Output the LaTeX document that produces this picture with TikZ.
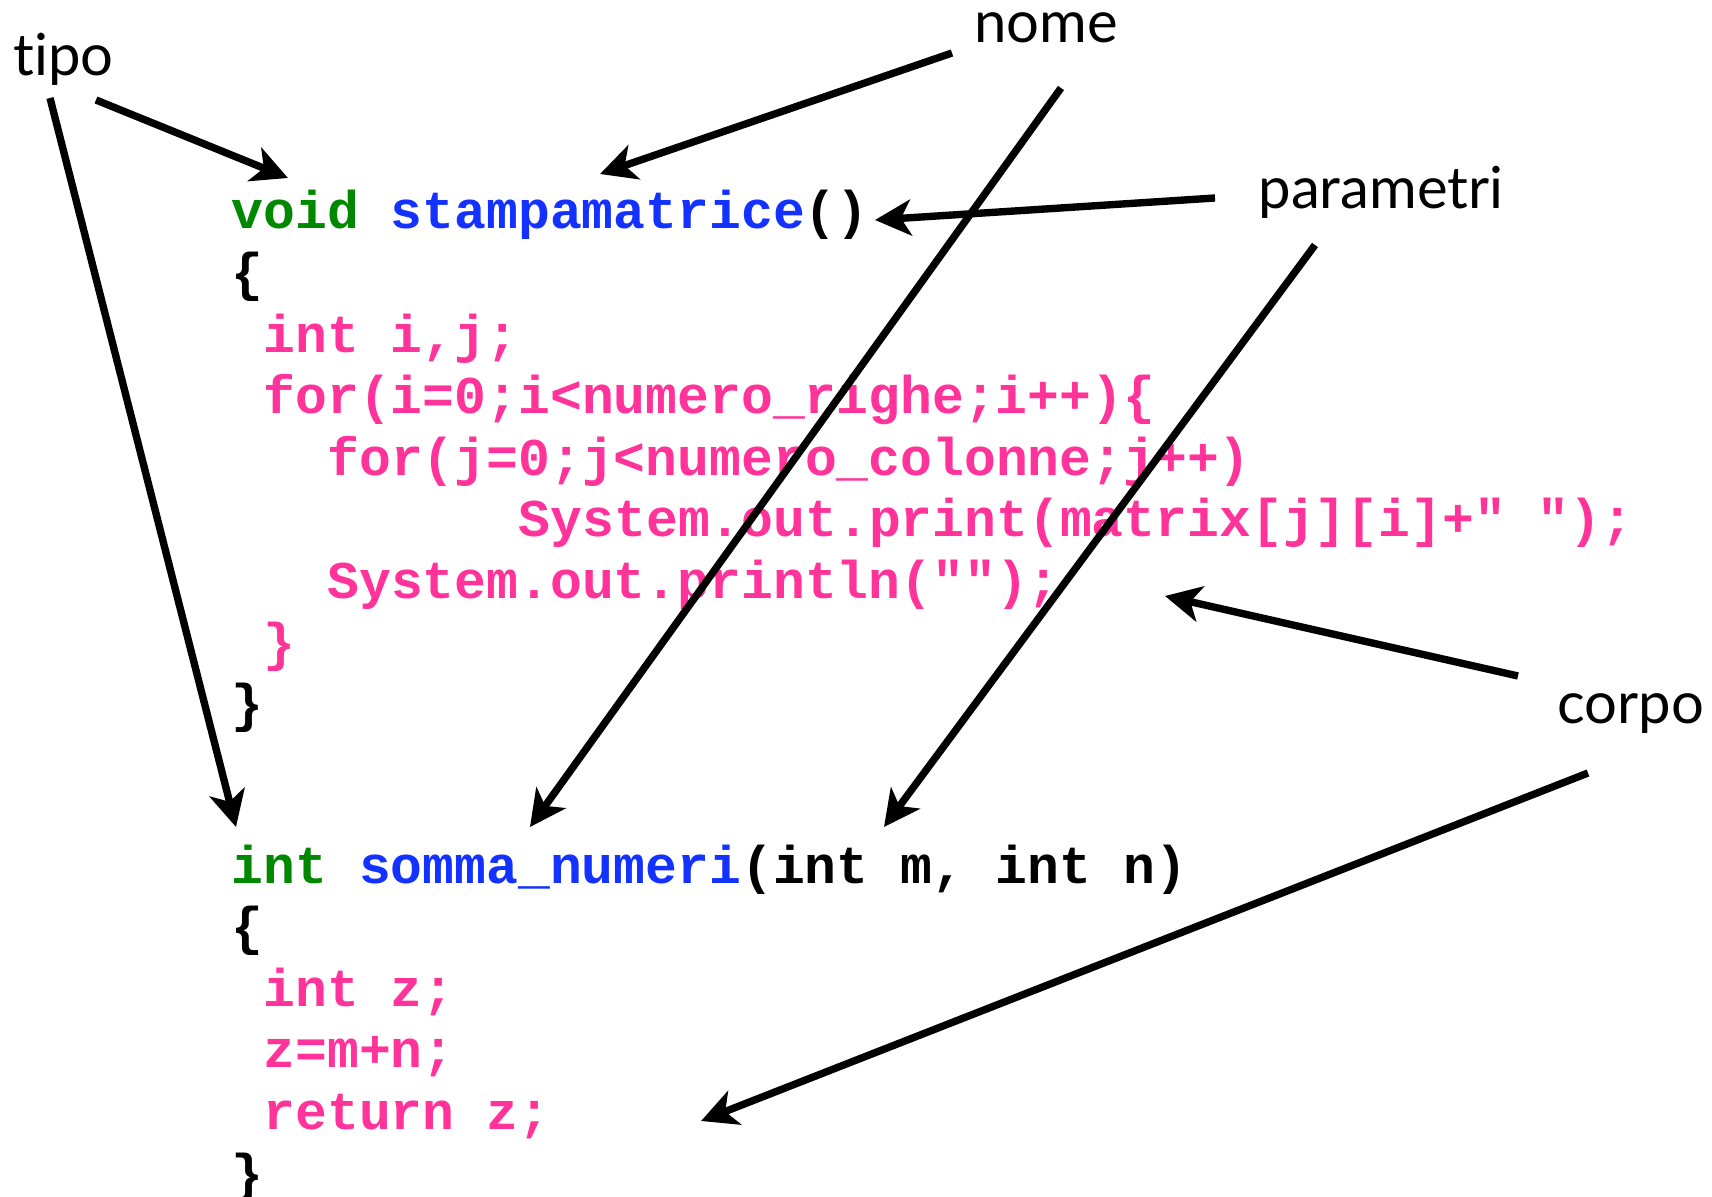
\documentclass[tikz,border=0pt]{standalone}
\usepackage{fontspec}
\setmainfont{Lato}[Ligatures={NoCommon}]
\newfontfamily\codefont{Liberation Mono}
\usetikzlibrary{arrows.meta, calc}

\definecolor{kwgreen}{RGB}{0,136,0}
\definecolor{fnblue}{RGB}{20,50,255}
\definecolor{bodypink}{RGB}{255,51,153}

\begin{document}
\begin{tikzpicture}[
    x=0.1mm, y=-0.1mm,
    >={Stealth[length=3.6mm, width=3.6mm, inset=1mm]},
    code/.style = {font=\codefont\bfseries\fontsize{15.1pt}{18pt}\selectfont, anchor=base west, inner sep=0pt},
    body/.style = {code, text=bodypink},
    tag/.style = {font=\fontsize{16.5pt}{20pt}\selectfont, anchor=base, inner sep=0pt},
    arrow/.style = {->, line width=2.1pt}
]
\useasboundingbox (0,0) rectangle (1712,1197);

% ---------------------------------------------------------
% first function (columns are 31.9 wide)
% ---------------------------------------------------------
\node[code] (sig1) at (231,229) {\textcolor{kwgreen}{void} \textcolor{fnblue}{stampamatrice}()};
\node[code] (open1) at (231,290.6) {\{};
\node[body] (decl1) at (262.9,352.2) {int i,j;};
\node[body] (outer) at (262.9,413.8) {for(i=0;i<numero\_righe;i++)\{};
\node[body] (inner) at (326.7,475.4) {for(j=0;j<numero\_colonne;j++)};
\node[body] (print) at (518.1,537) {System.out.print(matrix[j][i]+" ");};
\node[body] (newline) at (326.7,598.6) {System.out.println("");};
\node[body] (endfor) at (262.9,660.2) {\}};
\node[code] (close1) at (231,721.8) {\}};

% ---------------------------------------------------------
% second function
% ---------------------------------------------------------
\node[code] (sig2) at (231,883) {\textcolor{kwgreen}{int} \textcolor{fnblue}{somma\_numeri}(int m, int n)};
\node[code] (open2) at (231,944.6) {\{};
\node[body] (decl2) at (262.9,1006.2) {int z;};
\node[body] (sum) at (262.9,1067.8) {z=m+n;};
\node[body] (ret) at (262.9,1129.4) {return z;};
\node[code] (close2) at (231,1191) {\}};

% ---------------------------------------------------------
% labels
% ---------------------------------------------------------
\node[tag] (tipo) at (63.5,76) {tipo};
\node[tag] (nome) at (1046,43) {nome};
\node[tag] (parametri) at (1381,209) {parametri};
\node[tag] (corpo) at (1631,723) {corpo};

% arrow heads land here
\coordinate (voidTip) at (288,178);
\coordinate (intTip) at (236,827);
\coordinate (name1Tip) at (600,174);
\coordinate (name2Tip) at (530,827);
\coordinate (par1Tip) at (875,220);
\coordinate (par2Tip) at (884,827);
\coordinate (body1Tip) at (1165,596);
\coordinate (body2Tip) at (701,1121);

% ---------------------------------------------------------
% arrows
% ---------------------------------------------------------
\draw[arrow] ($(tipo.base)+(32.5,24)$) -- (voidTip);
\draw[arrow] ($(tipo.base)+(-13.5,22)$) -- (intTip);

\draw[arrow] ($(nome.base)+(-94,10)$) -- (name1Tip);
\draw[arrow] ($(nome.base)+(15,45)$) -- (name2Tip);

\draw[arrow] ($(parametri.base)+(-166,-11)$) -- (par1Tip);
\draw[arrow] ($(parametri.base)+(-66,36)$) -- (par2Tip);

\draw[arrow] ($(corpo.base)+(-113,-47)$) -- (body1Tip);
\draw[arrow] ($(corpo.base)+(-43,50)$) -- (body2Tip);

\end{tikzpicture}
\end{document}
